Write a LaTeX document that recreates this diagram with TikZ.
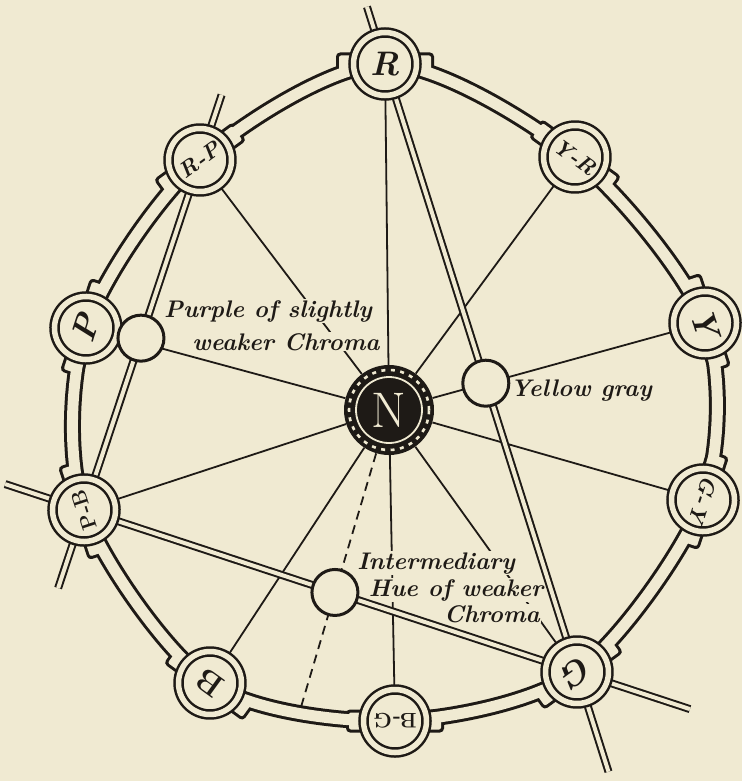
\documentclass[tikz,border=0pt]{standalone}
\usetikzlibrary{calc}

\definecolor{paper}{RGB}{240,234,210}
\definecolor{ink}{RGB}{30,26,22}

\pgfdeclarelayer{bg}
\pgfdeclarelayer{spk}
\pgfdeclarelayer{lns}
\pgfsetlayers{bg,spk,lns,main}

\tikzset{
  hue/.style={circle, draw=ink, line width=2.5pt, double=paper, double distance=5.5pt,
    fill=paper, minimum size=63pt, inner sep=0pt, text=ink},
  big/.style={font=\fontsize{34}{34}\selectfont\bfseries\itshape},
  bigup/.style={font=\fontsize{32}{32}\selectfont\bfseries},
  two/.style={font=\fontsize{22}{22}\selectfont\bfseries\itshape},
  twoup/.style={font=\fontsize{21}{21}\selectfont\bfseries},
  weak/.style={circle, draw=ink, line width=3pt, fill=paper, minimum size=46pt, inner sep=0pt},
  note/.style={font=\fontsize{24}{24}\selectfont\bfseries\itshape, text=ink, fill=paper,
    inner sep=1pt, anchor=base},
  rod/.style={draw=ink, line width=2pt, double=paper, double distance=4pt},
  spoke/.style={draw=ink, line width=1.8pt},
  collark/.style={rectangle, rounded corners=4pt, fill=ink, minimum width=98pt,
    minimum height=23pt, inner sep=0pt},
  collarp/.style={rectangle, rounded corners=2pt, fill=paper, minimum width=92pt,
    minimum height=17pt, inner sep=0pt},
  bandk/.style={ink, line width=17pt},
  bandp/.style={paper, line width=11pt},
}

\begin{document}
\begin{tikzpicture}[x=1pt, y=-1pt]

% paper
\begin{pgfonlayer}{bg}
\fill[paper] (0,0) rectangle (742,781);
\end{pgfonlayer}
\useasboundingbox (0,0) rectangle (742,781);

% hue circles round the ring
\node[hue, big] (hR) at (385,64) {R};
\node[hue, two, rotate=-36] (hYR) at (575,157) {Y-R};
\node[hue, big, rotate=-72] (hY) at (705,323) {Y};
\node[hue, two, rotate=-108] (hGY) at (703,500) {G-Y};
\node[hue, big, rotate=-144] (hG) at (577,672) {G};
\node[hue, twoup, rotate=180] (hBG) at (395,721) {B-G};
\node[hue, bigup, rotate=144] (hB) at (210,683) {B};
\node[hue, twoup, rotate=108] (hPB) at (84,510) {P-B};
\node[hue, big, rotate=72] (hP) at (86,328) {P};
\node[hue, two, rotate=36] (hRP) at (200,160) {R-P};

% weaker chroma circles on the rods
\node[weak] (sPu) at ($(hRP)!0.509!(hPB)$) {};
\node[weak] (sYe) at ($(hR)!0.525!(hG)$) {};
\node[weak] (sIm) at ($(hPB)!0.509!(hG)$) {};

% neutral
\node[circle, fill=ink, minimum size=90pt, inner sep=0pt, text=paper,
  font=\fontsize{50}{50}\selectfont] (nN) at (389,410) {N};
\draw[paper, line width=2.6pt, dash pattern=on 4pt off 5.5pt] (nN.center) circle (40pt);
\draw[paper, line width=1.8pt] (nN.center) circle (33pt);

% ring band with collars
\begin{pgfonlayer}{bg}
\foreach \h/\a in {hR/0,hYR/-36,hY/-72,hGY/-108,hG/-144,hBG/180,hB/144,hPB/108,hP/72,hRP/36}
  \node[collark, rotate=\a] (k\h) at (\h) {};
\draw[bandk] plot[smooth cycle] coordinates {(hR.center) (hYR.center) (hY.center)
  (hGY.center) (hG.center) (hBG.center) (hB.center) (hPB.center) (hP.center) (hRP.center)};
\foreach \h/\a in {hR/0,hYR/-36,hY/-72,hGY/-108,hG/-144,hBG/180,hB/144,hPB/108,hP/72,hRP/36}
  \node[collarp, rotate=\a] (p\h) at (\h) {};
\draw[bandp] plot[smooth cycle] coordinates {(hR.center) (hYR.center) (hY.center)
  (hGY.center) (hG.center) (hBG.center) (hB.center) (hPB.center) (hP.center) (hRP.center)};
\end{pgfonlayer}

% spokes from N
\begin{pgfonlayer}{spk}
\foreach \h in {hR,hYR,hY,hGY,hG,hBG,hB,hPB,hP,hRP}
  \draw[spoke] (nN) -- (\h);
\end{pgfonlayer}

% labels and rods
\begin{pgfonlayer}{lns}
\node[note] (tP1) at (268,317) {Purple of slightly};
\node[note] (tP2) at (286,350) {weaker Chroma};
\node[note] (tY) at (581,396) {Yellow gray};
\node[note] (tI1) at (436,569) {Intermediary};
\node[note] (tI2) at (456,596) {Hue of weaker};
\node[note] (tI3) at (492,622) {Chroma};

\coordinate (aTop) at ($(hG)!1.094!(hR)$);
\coordinate (aBot) at ($(hR)!1.164!(hG)$);
\coordinate (bTop) at ($(hPB)!1.186!(hRP)$);
\coordinate (bBot) at ($(hRP)!1.223!(hPB)$);
\coordinate (cLft) at ($(hG)!1.16!(hPB)$);
\coordinate (cRgt) at ($(hPB)!1.229!(hG)$);
\draw[rod] (aTop) -- (hR.center) -- (hG.center) -- (aBot);
\draw[rod] (bTop) -- (hRP.center) -- (hPB.center) -- (bBot);
\draw[rod] (cLft) -- (hPB.center) -- (hG.center) -- (cRgt);

% intermediary hue
\coordinate (dEnd) at ($(nN)!1.65!(sIm)$);
\draw[spoke, dash pattern=on 9pt off 6pt] (nN) -- (dEnd);
\end{pgfonlayer}

\end{tikzpicture}
\end{document}
